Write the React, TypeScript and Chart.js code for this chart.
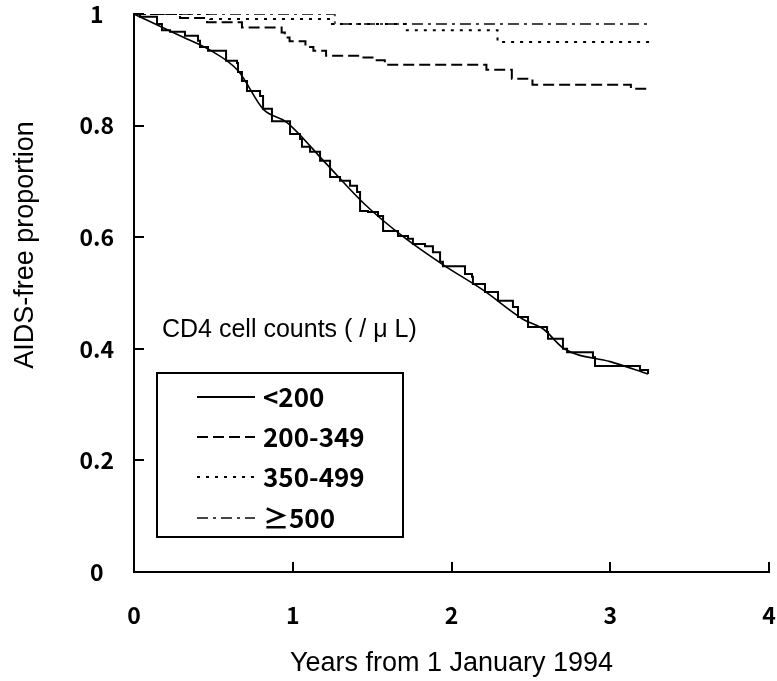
import React, { useEffect, useRef } from 'react';
import { Chart, registerables } from 'chart.js';

Chart.register(...registerables);

// ---- Data (years from 1 Jan 1994, AIDS-free proportion) ----
const seriesLabels = ['<200', '200-349', '350-499', '≥500'];

const lt200Times = [0, 0.038, 0.145, 0.176, 0.227, 0.321, 0.403, 0.416, 0.466, 0.58, 0.649, 0.655, 0.68, 0.712, 0.794, 0.813, 0.869, 0.983, 1.046, 1.058, 1.109, 1.172, 1.235, 1.298, 1.361, 1.405, 1.424, 1.474, 1.537, 1.569, 1.663, 1.726, 1.757, 1.833, 1.883, 1.928, 1.946, 2.085, 2.129, 2.135, 2.211, 2.293, 2.387, 2.419, 2.482, 2.602, 2.608, 2.702, 2.728, 2.891, 2.904, 3.187, 3.238];
const lt200Surv = [1, 0.995, 0.982, 0.971, 0.968, 0.961, 0.952, 0.941, 0.934, 0.916, 0.912, 0.896, 0.88, 0.862, 0.853, 0.83, 0.808, 0.785, 0.776, 0.762, 0.753, 0.737, 0.708, 0.701, 0.692, 0.681, 0.647, 0.645, 0.638, 0.611, 0.602, 0.597, 0.588, 0.584, 0.573, 0.556, 0.548, 0.534, 0.529, 0.516, 0.502, 0.486, 0.475, 0.457, 0.439, 0.43, 0.418, 0.4, 0.394, 0.385, 0.369, 0.362, 0.355];

const lt200FitTimes = [0, 0.29, 0.468, 0.657, 0.815, 0.962, 1.2, 1.45, 1.7, 1.95, 2.2, 2.45, 2.58, 2.71, 3.0, 3.238];
const lt200FitSurv = [1, 0.961, 0.937, 0.898, 0.829, 0.806, 0.735, 0.66, 0.6, 0.55, 0.505, 0.453, 0.435, 0.4, 0.377, 0.355];

const mid1Times = [0, 0.29, 0.46, 0.68, 0.93, 0.95, 0.98, 1.08, 1.13, 1.21, 1.42, 1.52, 1.58, 2.22, 2.38, 2.51, 3.13, 3.25];
const mid1Surv = [1, 0.993, 0.985, 0.976, 0.967, 0.958, 0.951, 0.941, 0.934, 0.925, 0.922, 0.917, 0.909, 0.9, 0.884, 0.873, 0.866, 0.866];

const mid2Times = [0, 0.48, 1.235, 1.71, 2.29, 3.25];
const mid2Surv = [1, 0.991, 0.982, 0.971, 0.95, 0.95];

const highTimes = [0, 1.265, 3.25];
const highSurv = [1, 0.982, 0.982];

const xTickValues = [0, 1, 2, 3, 4];
const yTickValues = [0, 0.2, 0.4, 0.6, 0.8, 1];

const xTitle = 'Years from 1 January 1994';
const yTitle = 'AIDS-free proportion';
const legendTitle = 'CD4 cell counts ( / μ L)';

const pts = (xs: number[], ys: number[]) => xs.map((x, i) => ({ x, y: ys[i] }));

const ARIAL = '"Liberation Sans", Arial, sans-serif';
const GOTHIC = '"Noto Sans CJK JP", "Liberation Sans", sans-serif';

export default function App() {
  const ref = useRef<HTMLCanvasElement>(null);

  useEffect(() => {
    const canvas = ref.current!;

    const overlay = {
      id: 'overlay',
      afterDraw(chart: any) {
        const { ctx, chartArea } = chart;
        const xs = chart.scales.x;
        const ys = chart.scales.y;
        ctx.save();
        ctx.strokeStyle = '#000';
        ctx.lineWidth = 2;
        ctx.setLineDash([]);
        // inward tick marks
        xTickValues.forEach((v) => {
          if (v === 0) return;
          const px = Math.round(xs.getPixelForValue(v));
          ctx.beginPath();
          ctx.moveTo(px, chartArea.bottom);
          ctx.lineTo(px, chartArea.bottom - 10);
          ctx.stroke();
        });
        yTickValues.forEach((v) => {
          if (v === 0) return;
          const py = Math.round(ys.getPixelForValue(v));
          ctx.beginPath();
          ctx.moveTo(chartArea.left, py);
          ctx.lineTo(chartArea.left + 10, py);
          ctx.stroke();
        });

        // axis titles
        ctx.fillStyle = '#000';
        ctx.font = `27px ${ARIAL}`;
        ctx.textAlign = 'center';
        ctx.textBaseline = 'middle';
        ctx.fillText(xTitle, (chartArea.left + chartArea.right) / 2, 664);
        ctx.save();
        ctx.translate(26, 245);
        ctx.rotate(-Math.PI / 2);
        ctx.fillText(yTitle, 0, 0);
        ctx.restore();

        // legend caption
        ctx.textAlign = 'left';
        ctx.font = `25px ${ARIAL}`;
        ctx.fillText(legendTitle, 162, 330);

        // legend box
        ctx.lineWidth = 2;
        ctx.strokeRect(157, 373, 246, 164);
        const rows = [397, 437, 477, 518];
        seriesLabels.forEach((lab, i) => {
          const ds = chart.data.datasets.find((d: any) => d.label === lab);
          ctx.save();
          ctx.strokeStyle = ds.borderColor;
          ctx.lineWidth = ds.borderWidth;
          ctx.setLineDash(ds.borderDash || []);
          ctx.beginPath();
          ctx.moveTo(197, rows[i]);
          ctx.lineTo(255, rows[i]);
          ctx.stroke();
          ctx.restore();
          ctx.fillStyle = '#000';
          ctx.font = `bold 26px ${GOTHIC}`;
          ctx.textAlign = 'left';
          ctx.textBaseline = 'middle';
          ctx.fillText(lab, 263, rows[i]);
        });
        ctx.restore();
      },
    };

    const chart = new Chart(canvas, {
      type: 'line',
      data: {
        datasets: [
          {
            label: '<200',
            data: pts(lt200Times, lt200Surv),
            stepped: true,
            borderColor: '#000',
            borderWidth: 2,
            pointRadius: 0,
            fill: false,
          },
          {
            label: '<200 fit',
            data: pts(lt200FitTimes, lt200FitSurv),
            borderColor: '#000',
            borderWidth: 1.6,
            pointRadius: 0,
            cubicInterpolationMode: 'monotone',
            fill: false,
          },
          {
            label: '200-349',
            data: pts(mid1Times, mid1Surv),
            stepped: true,
            borderColor: '#000',
            borderWidth: 2,
            borderDash: [11, 5],
            pointRadius: 0,
            fill: false,
          },
          {
            label: '350-499',
            data: pts(mid2Times, mid2Surv),
            stepped: true,
            borderColor: '#000',
            borderWidth: 2,
            borderDash: [3, 6],
            pointRadius: 0,
            fill: false,
          },
          {
            label: '≥500',
            data: pts(highTimes, highSurv),
            stepped: true,
            borderColor: '#444',
            borderWidth: 2,
            borderDash: [11, 5, 3, 5],
            pointRadius: 0,
            fill: false,
          },
        ],
      } as any,
      options: {
        animation: false,
        responsive: false,
        devicePixelRatio: 1,
        layout: { autoPadding: false, padding: { left: 0, right: 8, top: 14, bottom: 0 } },
        plugins: { legend: { display: false }, tooltip: { enabled: false } },
        scales: {
          x: {
            type: 'linear',
            min: 0,
            max: 4,
            grid: { display: false, drawTicks: false },
            border: { display: true, color: '#000', width: 2 },
            afterBuildTicks: (s: any) => {
              s.ticks = xTickValues.map((v) => ({ value: v }));
            },
            ticks: {
              color: '#000',
              padding: 29,
              maxRotation: 0,
              font: { family: GOTHIC, size: 23, weight: 'bold' },
              callback: (v: any) => String(v),
            },
            afterFit: (s: any) => {
              s.height = 109;
              s.paddingLeft = 0;
              s.paddingRight = 0;
            },
          },
          y: {
            type: 'linear',
            min: 0,
            max: 1,
            grid: { display: false, drawTicks: false },
            border: { display: true, color: '#000', width: 2 },
            afterBuildTicks: (s: any) => {
              s.ticks = yTickValues.map((v) => ({ value: v }));
            },
            ticks: {
              color: '#000',
              padding: 20,
              crossAlign: 'center',
              font: { family: GOTHIC, size: 23, weight: 'bold' },
              callback: (v: any) => String(Math.round(Number(v) * 10) / 10),
            },
            afterFit: (s: any) => {
              s.width = 134;
              s.paddingTop = 0;
              s.paddingBottom = 0;
            },
          },
        },
      } as any,
      plugins: [overlay],
    });

    return () => chart.destroy();
  }, []);

  return (
    <div style={{ position: 'fixed', left: 0, top: 0, width: 777, height: 681, background: '#fff' }}>
      <canvas ref={ref} width={777} height={681} style={{ display: 'block', width: 777, height: 681 }} />
    </div>
  );
}
